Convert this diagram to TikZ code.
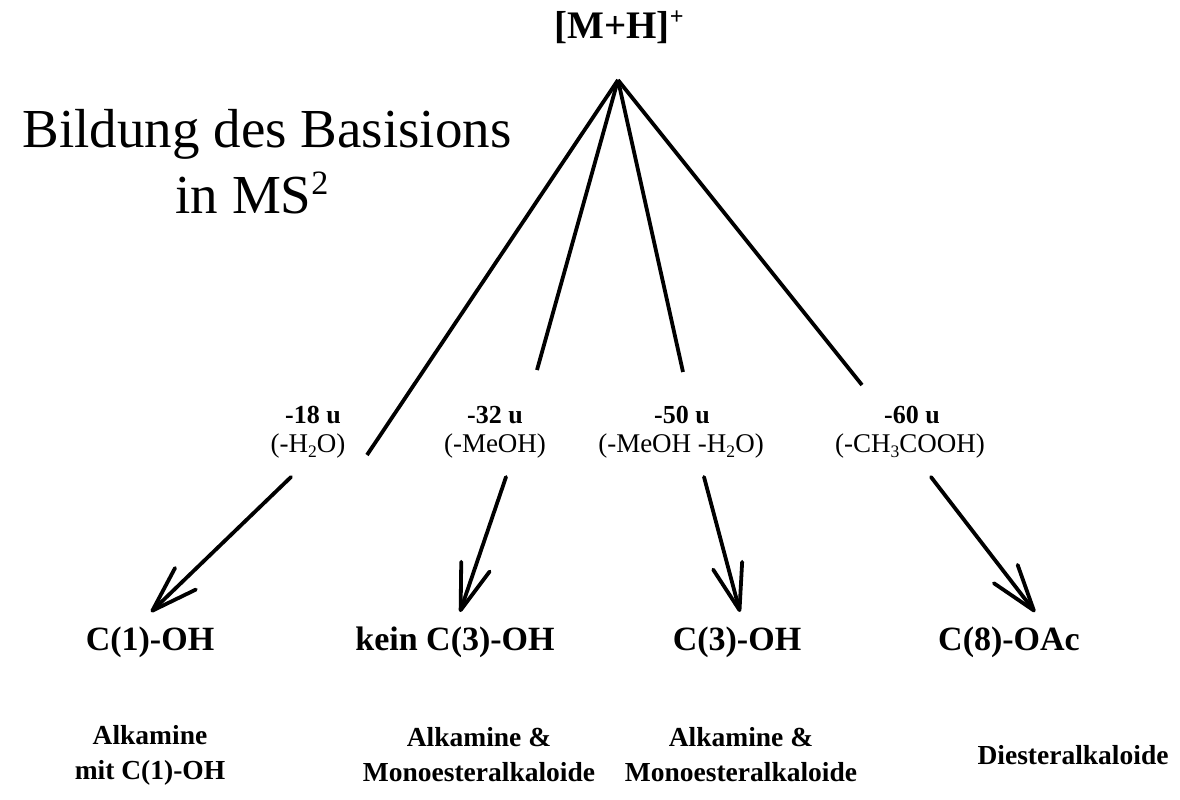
\documentclass[tikz,border=0pt]{standalone}
\usepackage{fontspec}
\setmainfont{Liberation Serif}
\usetikzlibrary{arrows.meta}
\newcommand{\supx}[1]{\raisebox{0.75ex}{\scalebox{0.62}{#1}}}
\newcommand{\subx}[1]{\raisebox{-0.45ex}{\scalebox{0.65}{#1}}}
\begin{document}
\begin{tikzpicture}[x=1pt,y=-1pt,
  branch/.style={line width=3.8pt},
  react/.style={line width=3.8pt,line cap=round,-{Straight Barb[length=46pt,width=30pt,line width=3.8pt,line cap=round,line join=round]}},
  masslbl/.style={font=\bfseries\fontsize{26}{30}\selectfont,anchor=base,inner sep=0pt},
  losslbl/.style={font=\fontsize{27}{30}\selectfont,anchor=base,inner sep=0pt},
  grp/.style={font=\bfseries\fontsize{34}{40}\selectfont,anchor=base,inner sep=0pt},
  cls/.style={font=\bfseries\fontsize{27.5}{35}\selectfont,align=center,inner sep=0pt},
  titletxt/.style={font=\fontsize{55}{64}\selectfont,anchor=base,inner sep=0pt}]
\useasboundingbox (0,0) rectangle (1180,800);
\fill[white] (0,0) rectangle (1180,800);

\node[font=\bfseries\fontsize{39}{46}\selectfont,anchor=base,inner sep=0pt] (ion) at (619,38) {[M+H]\supx{+}};
\node[titletxt] (t1) at (267,147) {Bildung des Basisions};
\node[titletxt] (t2) at (252,213) {in MS\supx{2}};

\coordinate (apex) at (618,80);
\coordinate (e1) at (367,455);
\coordinate (e2) at (537,370);
\coordinate (e3) at (683,372);
\coordinate (e4) at (862,385);
\draw[branch] (apex) -- (e1);
\draw[branch] (apex) -- (e2);
\draw[branch] (apex) -- (e3);
\draw[branch] (apex) -- (e4);

\node[masslbl] (m1) at (313,423) {-18 u};
\node[losslbl] (l1) at (308,452) {(-H\subx{2}O)};
\node[masslbl] (m2) at (495,423) {-32 u};
\node[losslbl] (l2) at (495,452) {(-MeOH)};
\node[masslbl] (m3) at (682,423) {-50 u};
\node[losslbl] (l3) at (681,452) {(-MeOH -H\subx{2}O)};
\node[masslbl] (m4) at (912,423) {-60 u};
\node[losslbl] (l4) at (910,452) {(-CH\subx{3}COOH)};

\coordinate (s1) at (291,477);
\coordinate (s2) at (506,477);
\coordinate (s3) at (704,477);
\coordinate (s4) at (931,477);

\node[grp] (g1) at (150,650) {C(1)-OH};
\node[grp] (g2) at (455,650) {kein C(3)-OH};
\node[grp] (g3) at (737,650) {C(3)-OH};
\node[grp] (g4) at (1009,650) {C(8)-OAc};

\coordinate (tp1) at (151,612);
\coordinate (tp2) at (460,612);
\coordinate (tp3) at (740,612);
\coordinate (tp4) at (1035,612);
\draw[react] (s1) -- (tp1);
\draw[react] (s2) -- (tp2);
\draw[react] (s3) -- (tp3);
\draw[react] (s4) -- (tp4);

\node[cls] (c1) at (150,755) {Alkamine\\mit C(1)-OH};
\node[cls] (c2) at (479,755) {Alkamine \&\\Monoesteralkaloide};
\node[cls] (c3) at (741,755) {Alkamine \&\\Monoesteralkaloide};
\node[cls] (c4) at (1073,755) {Diesteralkaloide};
\end{tikzpicture}
\end{document}
